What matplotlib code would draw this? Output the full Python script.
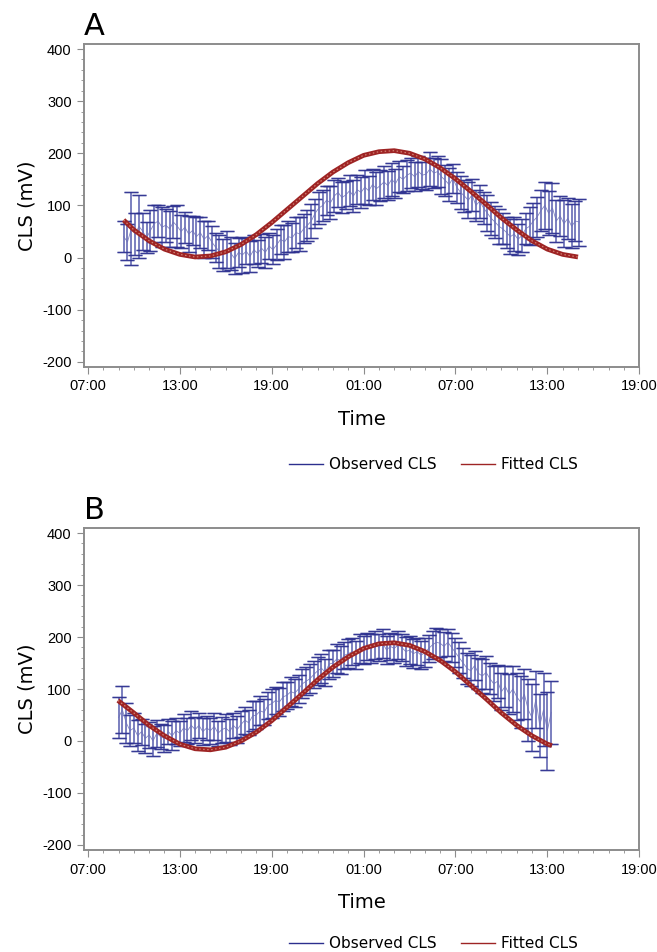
import numpy as np
import matplotlib
matplotlib.use("Agg")
import matplotlib.pyplot as plt
from matplotlib.lines import Line2D
from matplotlib.ticker import MultipleLocator

plt.rcParams['axes.unicode_minus'] = False

# hours counted from 07:00 on day 1
tick_hours = [0, 6, 12, 18, 24, 30, 36]
tick_labels = ['07:00', '13:00', '19:00', '01:00', '07:00', '13:00', '19:00']

# panel A: observed CLS every 15 min from 09:20
a_start = 2 + 20 / 60
a_obs = [40, 30, 55, 45, 60, 50, 38, 52, 65, 70, 58, 62, 55, 68, 60, 50,
         58, 45, 52, 40, 48, 35, 42, 30, 20, 12, 5, 15, 8, -2, 10, 5,
         12, 2, 15, 8, 18, 10, 22, 15, 25, 35, 30, 40, 38, 48, 45, 55,
         62, 70, 85, 95, 100, 110, 105, 118, 125, 115, 120, 128, 118, 130, 125, 135,
         128, 140, 132, 138, 145, 138, 150, 142, 155, 150, 158, 162, 155, 165, 158, 160,
         170, 162, 165, 155, 148, 140, 152, 135, 125, 118, 110, 120, 100, 108, 95, 85,
         75, 68, 60, 55, 48, 40, 45, 35, 42, 55, 60, 70, 78, 90, 100, 85,
         95, 70, 80, 65, 75, 60, 70, 68]
a_err = [30, 35, 70, 40, 60, 35, 30, 40, 35, 30, 38, 32, 35, 30, 40, 32,
         30, 35, 28, 38, 30, 35, 28, 30, 28, 32, 30, 35, 32, 30, 28, 34,
         25, 30, 28, 26, 28, 30, 25, 28, 30, 28, 32, 30, 28, 30, 32, 28,
         30, 32, 28, 30, 30, 28, 32, 30, 28, 30, 26, 30, 30, 28, 30, 32,
         28, 30, 32, 30, 30, 28, 32, 28, 30, 26, 30, 28, 28, 30, 26, 30,
         32, 28, 30, 34, 30, 32, 28, 30, 32, 30, 34, 30, 30, 32, 30, 34,
         32, 30, 34, 30, 30, 34, 32, 30, 32, 30, 36, 34, 38, 40, 45, 42,
         48, 40, 38, 45, 40, 42, 38, 45]
a_fit_t = [2.33, 3, 4, 5, 6, 7, 8, 9, 10, 11, 12, 13, 14, 15, 16, 17, 18,
           19, 20, 21, 22, 23, 24, 25, 26, 27, 28, 29, 30, 31, 32]
a_fit = [72, 53, 32, 16, 6, 1, 3, 11, 25, 44, 67, 92, 117, 142, 164, 182, 196,
         203, 205, 200, 189, 172, 151, 127, 102, 76, 53, 32, 16, 6, 1]

# panel B: observed CLS every 15 min from 09:00
b_start = 2.0
b_obs = [45, 60, 35, 20, 25, 10, 18, 5, 12, 0, 15, 8, 5, 18, 10, 20,
         15, 25, 20, 30, 22, 30, 18, 25, 20, 28, 15, 22, 25, 18, 30, 22,
         32, 40, 35, 48, 50, 58, 55, 68, 72, 78, 75, 85, 88, 95, 92, 100,
         110, 115, 120, 128, 135, 140, 132, 148, 150, 158, 155, 165, 168, 172, 165, 178,
         175, 182, 178, 185, 180, 188, 175, 182, 178, 185, 180, 172, 175, 168, 172, 165,
         170, 178, 185, 190, 188, 182, 190, 180, 170, 160, 150, 140, 135, 145, 130, 125,
         132, 120, 110, 115, 95, 105, 90, 100, 85, 75, 90, 60, 45, 80, 30, 60,
         20, 55]
b_err = [40, 45, 38, 30, 28, 30, 25, 28, 25, 28, 26, 24, 26, 24, 28, 25,
         24, 26, 25, 28, 25, 24, 26, 24, 25, 26, 24, 25, 26, 25, 24, 26,
         25, 26, 24, 28, 26, 28, 25, 26, 28, 26, 27, 28, 26, 28, 27, 26,
         28, 27, 28, 26, 27, 28, 26, 28, 26, 28, 27, 26, 28, 26, 27, 28,
         27, 26, 28, 27, 26, 28, 27, 26, 28, 27, 26, 28, 27, 28, 26, 27,
         28, 26, 27, 28, 27, 28, 26, 28, 28, 30, 28, 30, 30, 28, 30, 32,
         32, 30, 34, 32, 35, 40, 38, 45, 45, 50, 48, 60, 65, 55, 60, 70,
         75, 60]
b_fit_t = [1.96, 3, 4, 5, 6, 7, 8, 9, 10, 11, 12, 13, 14, 15, 16, 17, 18,
           19, 20, 21, 22, 23, 24, 25, 26, 27, 28, 29, 30, 30.3]
b_fit = [78, 54, 30, 10, -6, -15, -17, -12, 0, 17, 39, 65, 91, 118, 142, 162, 178,
         187, 189, 184, 172, 155, 133, 107, 81, 54, 30, 10, -6, -9]

obs_col = '#2c2f8e'
fit_col = '#9e2424'
spine_col = '#8c8c8c'

fig = plt.figure(figsize=(6.57, 9.52), dpi=100)


def draw_panel(rect, letter, start, obs, err, fit_t, fit, leg_y):
    ax = fig.add_axes(rect)
    t = start + 0.25 * np.arange(len(obs))
    ax.errorbar(t, obs, yerr=err, fmt='-', color='#6c70b8', lw=0.6,
                ecolor='#4a4fa6', elinewidth=1.2, capsize=5, capthick=1.0,
                alpha=0.85, zorder=2)
    # darker caps on top
    ax.errorbar(t, obs, yerr=err, fmt='none', ecolor=obs_col, elinewidth=0,
                capsize=5, capthick=1.0, alpha=0.8, zorder=2)
    ax.plot(fit_t, fit, color=fit_col, lw=3.4, solid_capstyle='butt', zorder=3)
    ax.plot(fit_t, fit, color='#e3a08c', lw=0.9, dashes=(1.2, 2.0), alpha=0.75, zorder=4)

    ax.set_xlim(-0.25, 36)
    ax.set_ylim(-210, 410)
    ax.set_xticks(tick_hours)
    ax.set_xticklabels(tick_labels)
    ax.xaxis.set_minor_locator(MultipleLocator(1))
    ax.set_yticks([-200, -100, 0, 100, 200, 300, 400])
    ax.yaxis.set_minor_locator(MultipleLocator(20))
    ax.tick_params(which='major', direction='out', length=5, color=spine_col,
                   labelsize=10.5, pad=4)
    ax.tick_params(which='minor', direction='out', length=2.5, color=spine_col)
    for lab in ax.get_xticklabels() + ax.get_yticklabels():
        lab.set_family(['Liberation Sans', 'DejaVu Sans'])
    for s in ax.spines.values():
        s.set_color(spine_col)
        s.set_linewidth(1.4)
    ax.set_xlabel('Time', fontsize=14, labelpad=12)
    ax.set_ylabel('CLS (mV)', fontsize=14, labelpad=4)
    ax.text(0.0, 1.01, letter, transform=ax.transAxes, fontsize=22,
            ha='left', va='bottom')

    handles = [Line2D([], [], color=obs_col, lw=1), Line2D([], [], color=fit_col, lw=1)]
    fig.legend(handles, ['Observed CLS', 'Fitted CLS'], loc='center',
               bbox_to_anchor=(0.66, leg_y), ncol=2, frameon=False, fontsize=11,
               handlelength=2.2, columnspacing=1.6, handletextpad=0.4)


draw_panel([0.128, 0.6145, 0.845, 0.3395], 'A', a_start, a_obs, a_err, a_fit_t, a_fit, 0.512)
draw_panel([0.128, 0.107, 0.845, 0.3385], 'B', b_start, b_obs, b_err, b_fit_t, b_fit, 0.009)

fig.savefig('out.png', dpi=100)
